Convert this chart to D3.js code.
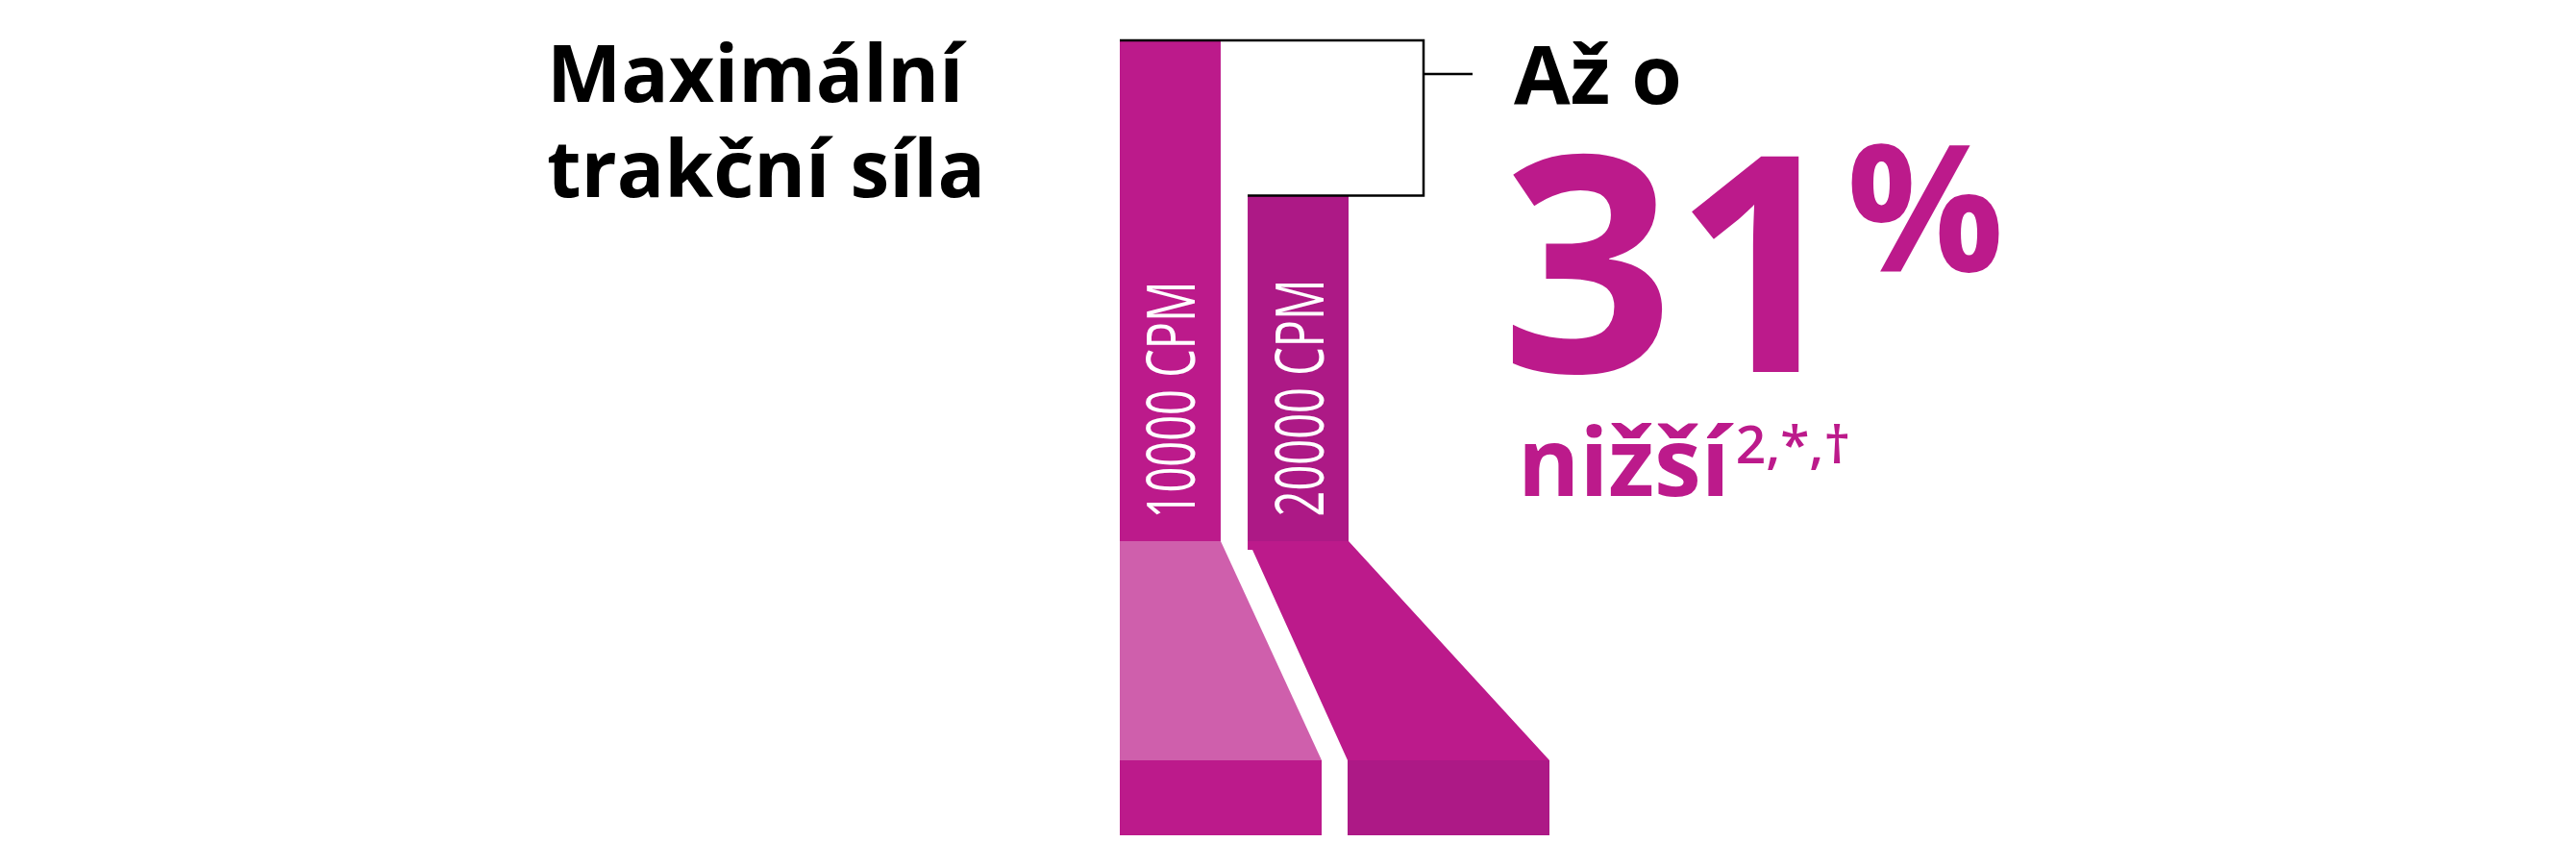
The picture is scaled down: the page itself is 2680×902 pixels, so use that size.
<!DOCTYPE html>
<html lang="cs">
<head>
  <meta charset="UTF-8">
  <title>Maximální trakční síla</title>
  <script src="https://d3js.org/d3.v7.min.js"></script>
  <style>
    body {
      margin: 0;
      background: #fff;
      font-family: "Open Sans", sans-serif;
    }
    text {
      font-family: "Open Sans", sans-serif;
    }
  </style>
</head>
<body>
  <script>
    // Data
    const categories = ["10000 CPM", "20000 CPM"];
    const tractionForce = [100, 69];          // relative max traction force
    const titleLines = ["Maximální", "trakční síla"];
    const reduction = "31";
    const headline = "Až o";
    const lowerWord = "nižší";
    const footnoteMarks = "2,*,†";

    const width = 2680;
    const height = 902;

    const colors = {
      bar: ["#bc1a8b", "#ad1986"],
      slope: ["#cf5fac", "#bc1a8b"],
      text: "#bc1a8b"
    };

    const svg = d3.select("body")
      .append("svg")
      .attr("width", width)
      .attr("height", height);

    // Scales
    const x = d3.scaleBand()
      .domain(categories)
      .range([1165, 1403])
      .paddingInner(0.211)
      .paddingOuter(0);

    const xBase = d3.scaleBand()
      .domain(categories)
      .range([1165, 1612])
      .paddingInner(0.114)
      .paddingOuter(0);

    const y = d3.scaleLinear()
      .domain([0, 100])
      .range([563, 42]);

    const slopeBottom = 791;
    const baseBottom = 869;

    const data = categories.map((c, i) => ({ cat: c, value: tractionForce[i], i }));

    // Sloped connectors between bars and base blocks
    svg.selectAll("path.slope")
      .data(data)
      .enter()
      .append("path")
      .attr("class", "slope")
      .attr("fill", d => colors.slope[d.i])
      .attr("d", d => {
        const x0 = x(d.cat), x1 = x0 + x.bandwidth();
        const b0 = xBase(d.cat), b1 = b0 + xBase.bandwidth();
        const top = y(0);
        if (d.i === 0) {
          return d3.line()([[x0, top], [x1, top], [b1, slopeBottom], [b0, slopeBottom]]) + "Z";
        }
        return d3.line()([[x0, top], [x1, top], [b1, slopeBottom], [b0, slopeBottom],
          [x0 + 5, top + 9], [x0, top + 9]]) + "Z";
      });

    // Bars
    svg.selectAll("rect.bar")
      .data(data)
      .enter()
      .append("rect")
      .attr("class", "bar")
      .attr("x", d => x(d.cat))
      .attr("y", d => y(d.value))
      .attr("width", x.bandwidth())
      .attr("height", d => y(0) - y(d.value))
      .attr("fill", d => colors.bar[d.i]);

    // Base blocks
    svg.selectAll("rect.base")
      .data(data)
      .enter()
      .append("rect")
      .attr("class", "base")
      .attr("x", d => xBase(d.cat))
      .attr("y", slopeBottom)
      .attr("width", xBase.bandwidth())
      .attr("height", baseBottom - slopeBottom)
      .attr("fill", d => colors.bar[d.i]);

    // Bar labels (rotated, condensed)
    svg.selectAll("text.cat")
      .data(data)
      .enter()
      .append("text")
      .attr("class", "cat")
      .attr("transform", d => `translate(${x(d.cat) + x.bandwidth() / 2 + 26},${416 - d.i * 2}) rotate(-90)`)
      .attr("text-anchor", "middle")
      .attr("textLength", 247)
      .attr("lengthAdjust", "spacingAndGlyphs")
      .attr("fill", "#fff")
      .style("font-weight", 400)
      .style("font-size", "70px")
      .text(d => d.cat);

    // Difference bracket
    const bx = 1481;
    const yTop = y(tractionForce[0]);
    const yLow = y(tractionForce[1]);
    const bracket = svg.append("g")
      .attr("fill", "none")
      .attr("stroke", "#000")
      .attr("stroke-width", 2.5);
    bracket.append("path")
      .attr("d", d3.line()([[x(categories[0]), yTop], [bx, yTop], [bx, yLow], [x(categories[1]), yLow]]));
    bracket.append("line")
      .attr("x1", bx).attr("x2", 1532)
      .attr("y1", 77).attr("y2", 77);

    // Title
    svg.append("g")
      .selectAll("text")
      .data(titleLines)
      .enter()
      .append("text")
      .attr("x", 569)
      .attr("y", (d, i) => 106 + i * 99)
      .style("font-size", "82px")
      .style("font-weight", 700)
      .attr("fill", "#000")
      .text(d => d);

    // Headline
    svg.append("text")
      .attr("x", 1575)
      .attr("y", 108)
      .style("font-size", "85px")
      .style("font-weight", 700)
      .attr("fill", "#000")
      .text(headline);

    svg.append("text")
      .attr("x", 1562)
      .attr("y", 387)
      .style("font-size", "314px")
      .style("font-weight", 700)
      .attr("fill", colors.text)
      .text(reduction);

    svg.append("text")
      .attr("x", 1921)
      .attr("y", 282)
      .attr("textLength", 164)
      .attr("lengthAdjust", "spacingAndGlyphs")
      .style("font-size", "183px")
      .style("font-weight", 700)
      .attr("fill", colors.text)
      .text("%");

    const low = svg.append("text")
      .attr("x", 1579)
      .attr("y", 516)
      .style("font-weight", 700)
      .attr("fill", colors.text);
    low.append("tspan")
      .style("font-size", "98px")
      .text(lowerWord);
    low.append("tspan")
      .attr("dy", -34)
      .attr("dx", 6)
      .style("font-size", "55px")
      .style("font-weight", 600)
      .text(footnoteMarks);
  </script>
</body>
</html>
